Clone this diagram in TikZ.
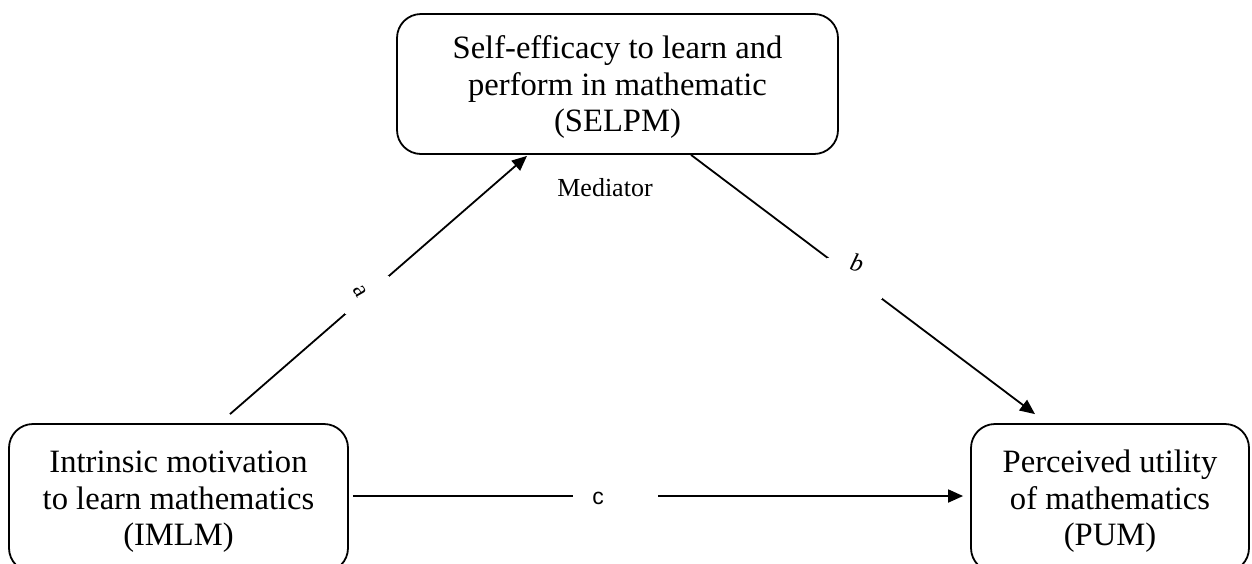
\documentclass[tikz,border=0pt]{standalone}
\usepackage{fontspec}
\setmainfont{Liberation Serif}
\setsansfont{Liberation Sans}
\usetikzlibrary{arrows.meta,calc}
\newcommand{\topstrut}{\rule{0pt}{14.6pt}}
\begin{document}
\begin{tikzpicture}[x=0.5pt,y=-0.5pt,
  box/.style={draw,line width=0.9pt,rounded corners=12pt,inner sep=0pt,align=center,
    font=\fontsize{16.3}{18.4}\selectfont},
  conn/.style={line width=0.9pt},
  arr/.style={conn,-{Triangle[length=7.5pt,width=6.5pt]}},
  gapnode/.style={fill=white,inner sep=0pt},
  lab/.style={inner sep=0pt,font=\fontsize{12}{14}\selectfont},
  medlab/.style={inner sep=0pt,font=\fontsize{13}{15}\selectfont}]
\clip (0,0) rectangle (1252,563);
\fill[white] (0,0) rectangle (1252,563);
\node[box,minimum width=220.5pt,minimum height=70pt] (T) at (617.5,84)
  {\topstrut Self-efficacy to learn and\\perform in mathematic\\(SELPM)};
\node[box,minimum width=169.5pt,minimum height=74pt] (L) at (178.5,498)
  {\topstrut Intrinsic motivation\\to learn mathematics\\(IMLM)};
\node[box,minimum width=139pt,minimum height=74pt] (R) at (1110,498)
  {\topstrut Perceived utility\\of mathematics\\(PUM)};
\node[medlab] (med) at (605,188) {Mediator};
% a
\draw[arr] ($(L.north)+(51.5,-9)$) -- node[gapnode,pos=0.461,minimum width=22pt,minimum height=19pt]{} ($(T.south)+(-90.5,1)$);
\node[lab,rotate=-60] (la) at (360,291) {a};
% b
\draw[arr] ($(T.south)+(73.5,0)$) -- node[gapnode,pos=0.475,minimum width=27.5pt,minimum height=20.5pt]{} ($(R.north)+(-75,-9)$);
\node[lab,rotate=-15,font=\itshape\fontsize{12.5}{14}\selectfont] (lb) at (857,263) {b};
% c
\draw[arr] ($(L.east)+(4,-2)$) -- node[gapnode,pos=0.43,minimum width=42.5pt,minimum height=4pt]{} ($(R.west)+(-7,-2)$);
\node[lab,font=\sffamily\fontsize{11.5}{13}\selectfont] (lc) at (598,498) {c};
\end{tikzpicture}
\end{document}
